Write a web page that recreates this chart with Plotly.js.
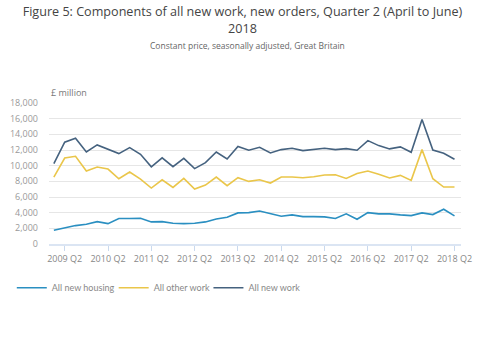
<!DOCTYPE html>
<html>
<head>
<meta charset="utf-8">
<script src="https://cdn.plot.ly/plotly-3.0.1.min.js"></script>
<style>html,body{margin:0;padding:0;background:#fff;}#chart{width:485px;height:360px;}</style>
</head>
<body>
<div id="chart"></div>
<script>
const quarters = [];
for (let y = 2009; y <= 2018; y++) { for (let q = 1; q <= 4; q++) { if (y === 2018 && q > 2) break; quarters.push(y + " Q" + q); } }
const tickLabels = ["2009 Q2","2010 Q2","2011 Q2","2012 Q2","2013 Q2","2014 Q2","2015 Q2","2016 Q2","2017 Q2","2018 Q2"];

const allNewHousing = [1750,2090,2350,2520,2860,2600,3250,3250,3290,2820,
  2860,2650,2600,2650,2820,3200,3420,3970,4010,4220,
  3850,3550,3720,3500,3500,3460,3250,3850,3160,4010,
  3850,3850,3720,3630,3970,3760,4440,3590];
const allOtherWork = [8550,10980,11200,9320,9830,9570,8330,9190,8290,7140,
  8200,7220,8370,7010,7520,8550,7440,8460,7990,8200,
  7780,8550,8550,8460,8590,8800,8850,8370,8990,9320,
  8890,8420,8760,8120,12050,8330,7270,7270];
const allNewWork = [10250,13000,13500,11750,12650,12140,11540,12300,11450,9850,
  11000,9870,10940,9620,10380,11750,10850,12440,11970,12350,
  11620,12050,12220,11920,12050,12220,12050,12180,11970,13200,
  12560,12140,12400,11710,15900,12000,11580,10810];

const seriesNames = ["All new housing","All other work","All new work"];
const seriesColors = ["#2a8fc1","#eac64a","#45627f"];
const seriesData = [allNewHousing, allOtherWork, allNewWork];
const legendIds = ["legend","legend2","legend3"];

const traces = seriesData.map((d, i) => ({
  x: quarters, y: d, type: "scatter", mode: "lines", name: seriesNames[i],
  line: {color: seriesColors[i], width: 1.6},
  legend: legendIds[i],
  hoverinfo: "x+y"
}));

const font = "'Open Sans', 'Noto Sans', sans-serif";
const legendFont = {family: "Lato, 'Open Sans', sans-serif", size: 9, color: "#888"};
const legendX = [-0.0903, 0.157, 0.387];
const mkLegend = (x) => ({orientation: "h", x: x, xanchor: "left", y: -0.31, yanchor: "middle",
  font: legendFont, bgcolor: "rgba(0,0,0,0)"});

const layout = {
  width: 485, height: 360,
  margin: {l: 40, r: 24, t: 103, b: 116},
  paper_bgcolor: "#fff", plot_bgcolor: "#fff",
  font: {family: font, color: "#888", size: 9},
  title: {
    text: "Figure 5: Components of all new work, new orders, Quarter 2 (April to June)<br>2018",
    font: {family: font, size: 12.6, color: "#444"},
    x: 0.5, xanchor: "center", xref: "container", y: 0.955, yanchor: "middle", yref: "container"
  },
  xaxis: {
    type: "category", categoryorder: "array", categoryarray: quarters,
    range: [-0.45, 37.6],
    tickmode: "array", tickvals: tickLabels, ticktext: tickLabels,
    ticks: "outside", ticklen: 5, tickcolor: "#c9d9ee", tickwidth: 1,
    showgrid: false, showline: true, linecolor: "#dbe5f3", linewidth: 2,
    zeroline: false,
    tickfont: {family: font, size: 9, color: "#888"}
  },
  yaxis: {
    range: [0, 18000], tickvals: [0,2000,4000,6000,8000,10000,12000,14000,16000,18000],
    tickformat: ",d", showgrid: true, gridcolor: "#e6e6e6", gridwidth: 1,
    zeroline: false, showline: false, ticks: "", ticklabelstandoff: 10,
    tickfont: {family: font, size: 9, color: "#999"}
  },
  showlegend: true,
  legend: mkLegend(legendX[0]),
  legend2: mkLegend(legendX[1]),
  legend3: mkLegend(legendX[2]),
  annotations: [
    {text: "Constant price, seasonally adjusted, Great Britain", xref: "paper", yref: "paper",
     x: 0.481, y: 1.411, xanchor: "center", yanchor: "middle", showarrow: false,
     font: {family: font, size: 8.5, color: "#666"}},
    {text: "£ million", xref: "paper", yref: "paper", x: 0, y: 1.015, xanchor: "left", yanchor: "bottom",
     showarrow: false, font: {family: font, size: 9, color: "#777"}},
    {text: "<b>Source: Office for National Statistics and Barbour ABI</b>", xref: "paper", yref: "paper",
     x: -0.085, y: -0.78, xanchor: "left", yanchor: "top", showarrow: false,
     font: {family: font, size: 11, color: "#333"}}
  ]
};

Plotly.newPlot("chart", traces, layout, {displayModeBar: false, staticPlot: true});
</script>
</body>
</html>
